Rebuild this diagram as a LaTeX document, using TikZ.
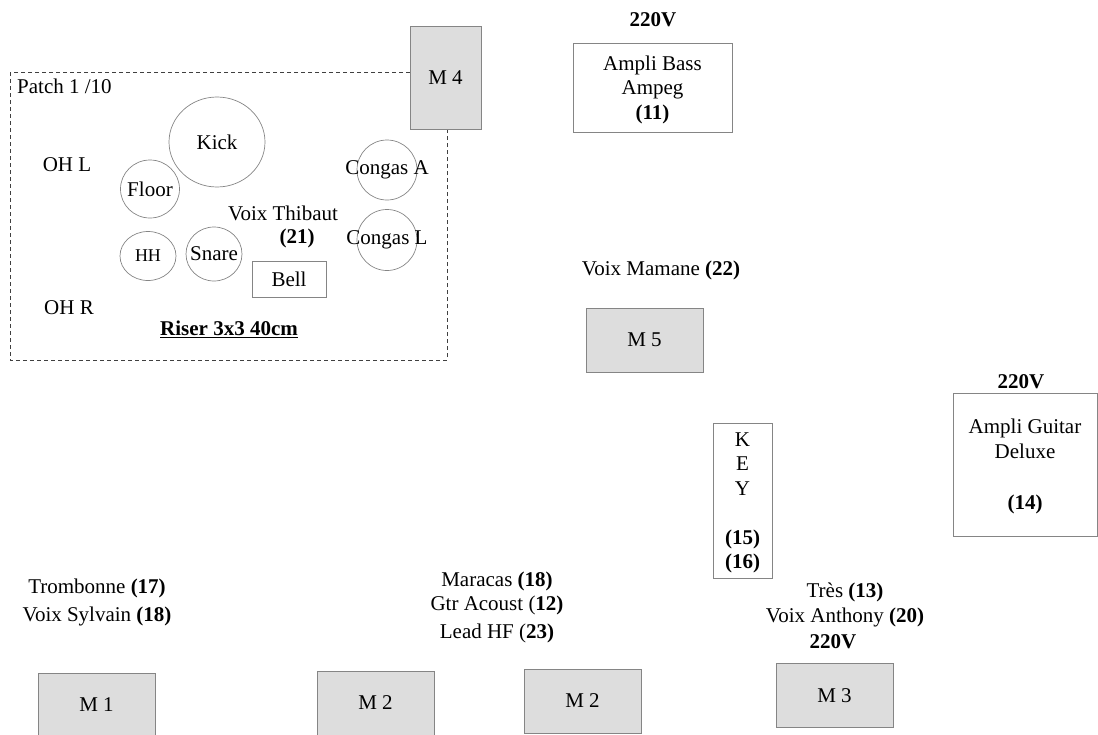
\documentclass[tikz,border=0pt]{standalone}
\usepackage{fontspec}
\setmainfont{Liberation Serif}
\usetikzlibrary{shapes.geometric}
\definecolor{monfill}{HTML}{DDDDDD}
\definecolor{edgegray}{HTML}{858585}
\tikzset{
  monitor/.style={draw=edgegray, fill=monfill, line width=0.9pt, inner sep=0pt,
    minimum width=117pt, minimum height=64pt, text depth=0pt},
  ampbox/.style={draw=edgegray, line width=0.9pt, align=center, inner sep=0pt, text depth=0pt},
  drum/.style={ellipse, draw=edgegray, line width=0.7pt, inner sep=0pt},
  lbl/.style={inner sep=0pt, align=center},
  volt/.style={inner sep=0pt, font=\fontsize{21}{24.5}\selectfont\bfseries}
}
\begin{document}
\begin{tikzpicture}[x=1pt, y=-1pt, font=\fontsize{21}{24.5}\selectfont]
  \useasboundingbox (0,0) rectangle (1098,734);
  \clip (0,0) rectangle (1098,734);
  % Riser
  \draw[dash pattern=on 4pt off 3pt, line width=0.8pt, color=black!75] (10,72) rectangle (447,360);
  \node[lbl, anchor=west] (patch) at (17,86) {Patch 1 /10};
  \node[lbl] (ohl) at (67,165) {OH L};
  \node[lbl] (ohr) at (69,308) {OH R};
  \node[drum, minimum width=96pt, minimum height=90pt, label=center:Kick] (kick) at (217,142) {};
  \node[drum, minimum width=59pt, minimum height=58pt, label=center:Floor] (floor) at (150,189) {};
  \node[drum, minimum width=56pt, minimum height=49pt,
    label={[font=\fontsize{18}{20}\selectfont]center:HH}] (hh) at (148,256) {};
  \node[drum, minimum width=56pt, minimum height=54pt, label=center:Snare] (snare) at (214,254) {};
  \node[drum, minimum width=60pt, minimum height=60pt, label=center:Congas A] (congasa) at (387,170) {};
  \node[drum, minimum width=60pt, minimum height=61pt, label=center:Congas L] (congasl) at (387,240) {};
  \node[ampbox, minimum width=74pt, minimum height=36pt] (bell) at (289,279) {Bell};
  \node[lbl] (thibaut) at (283,213) {Voix Thibaut};
  \node[lbl, font=\fontsize{21}{24.5}\selectfont\bfseries] (thibautnum) at (297,238) {(21)};
  \node[lbl] (riser) at (229,329) {\underline{\textbf{Riser 3x3 40cm}}};
  % Monitors
  \node[monitor, minimum width=71pt, minimum height=103pt] (m4) at (445.5,77.5) {M 4};
  \node[monitor] (m5) at (644.5,340) {M 5};
  \node[monitor] (m3) at (834.5,695.5) {M 3};
  \node[monitor] (m1) at (96.5,705) {M 1};
  \node[monitor] (m2a) at (375.5,703) {M 2};
  \node[monitor] (m2b) at (582.5,701) {M 2};
  % Amps and keys
  \node[volt] (bassvolt) at (653,20) {220V};
  \node[ampbox, minimum width=159pt, minimum height=89pt] (bass) at (652.5,87.5)
    {Ampli Bass\\Ampeg\\\textbf{(11)}};
  \node[volt] (guitvolt) at (1021,382) {220V};
  \node[ampbox, minimum width=144pt, minimum height=143pt] (guitar) at (1025,464.5)
    {Ampli Guitar\\Deluxe\\[27pt]\textbf{(14)}};
  \node[ampbox, minimum width=59pt, minimum height=155pt] (key) at (742.5,500.5)
    {K\\E\\Y\\[24.5pt]\textbf{(15)}\\\textbf{(16)}};
  % Voices
  \node[lbl] (mamane) at (661,270) {Voix Mamane \textbf{(22)}};
  \node[lbl] (anthony) at (845,605) {Très \textbf{(13)}\\Voix Anthony \textbf{(20)}};
  \node[volt] (anthonyvolt) at (833,642) {220V};
  \node[lbl] (maracas) at (497,607) {Maracas \textbf{(18)}\\Gtr Acoust (\textbf{12)}\\[3pt]Lead HF (\textbf{23)}};
  \node[lbl] (sylvain) at (97,602) {Trombonne \textbf{(17)}\\[3.5pt]Voix Sylvain \textbf{(18)}};
\end{tikzpicture}
\end{document}
